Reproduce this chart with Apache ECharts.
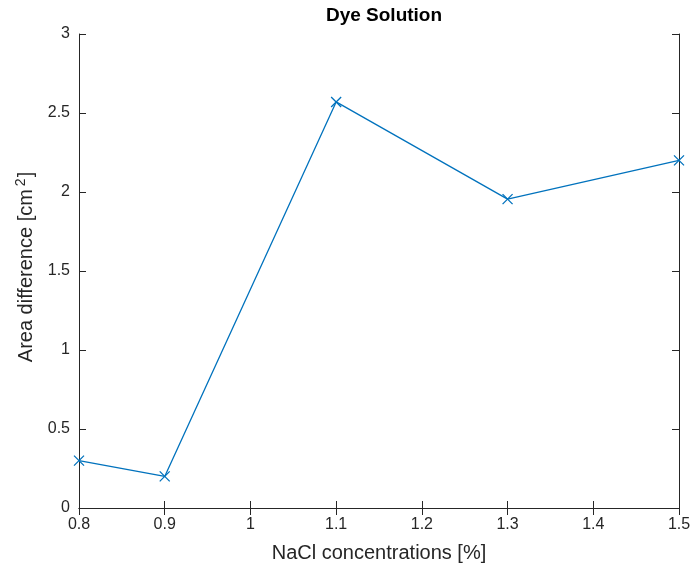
<!DOCTYPE html>
<html>
<head>
    <meta charset="utf-8">
    <title>Dye Solution</title>
    <script src="https://cdn.jsdelivr.net/npm/echarts@6/dist/echarts.min.js"></script>
    <style>
        html, body { margin: 0; padding: 0; background: #fff; }
        #main { width: 694px; height: 569px; }
    </style>
</head>
<body>
<div id="main"></div>
<script type="text/javascript">
    // NaCl concentration [%] and measured area difference [cm^2]
    var nacl = [0.8, 0.9, 1.1, 1.3, 1.5];
    var areaDiff = [0.30, 0.20, 2.57, 1.955, 2.20];

    var points = [];
    for (var i = 0; i < nacl.length; i++) {
        points.push([nacl[i], areaDiff[i]]);
    }

    var ink = '#262626';
    var font = 'Liberation Sans, Arial, Helvetica, sans-serif';

    function fmt(v) {
        return String(Math.round(v * 10) / 10);
    }

    var myChart = echarts.init(document.getElementById('main'));

    var option = {
        animation: false,
        backgroundColor: '#fff',
        title: {
            text: 'Dye Solution',
            left: 379,
            top: 1,
            textAlign: 'center',
            textStyle: { fontFamily: font, fontSize: 19, fontWeight: 'bold', color: '#000' }
        },
        grid: { left: 79, right: 15, top: 34, bottom: 61 },
        xAxis: [{
            type: 'value',
            min: 0.8, max: 1.5, interval: 0.1,
            name: 'NaCl concentrations [%]',
            nameLocation: 'middle',
            nameGap: 35,
            nameTextStyle: { fontFamily: font, fontSize: 20, color: ink },
            axisLine: { lineStyle: { color: ink, width: 1 } },
            axisTick: { inside: true, length: 7, lineStyle: { color: ink } },
            axisLabel: { fontFamily: font, fontSize: 16, color: ink, margin: 9, formatter: fmt },
            splitLine: { show: false }
        }, {
            type: 'value', position: 'top',
            min: 0.8, max: 1.5, interval: 0.1,
            axisLine: { show: true, lineStyle: { color: ink, width: 1 } },
            axisTick: { inside: true, length: 7, lineStyle: { color: ink } },
            axisLabel: { show: false },
            splitLine: { show: false }
        }],
        yAxis: [{
            type: 'value',
            min: 0, max: 3, interval: 0.5,
            name: 'Area difference [cm{sup|2}]',
            nameLocation: 'middle',
            nameGap: 29,
            nameRotate: 90,
            nameTextStyle: {
                fontFamily: font, fontSize: 20, color: ink,
                padding: [0, 0, 0, 8],
                rich: { sup: { fontFamily: font, fontSize: 14, color: ink, verticalAlign: 'top', padding: [0, 1, 12, 3] } }
            },
            axisLine: { show: true, lineStyle: { color: ink, width: 1 } },
            axisTick: { show: true, inside: true, length: 7, lineStyle: { color: ink } },
            axisLabel: { fontFamily: font, fontSize: 16, color: ink, margin: 9, formatter: fmt },
            splitLine: { show: false }
        }, {
            type: 'value', position: 'right',
            min: 0, max: 3, interval: 0.5,
            axisLine: { show: true, lineStyle: { color: ink, width: 1 } },
            axisTick: { show: true, inside: true, length: 7, lineStyle: { color: ink } },
            axisLabel: { show: false },
            splitLine: { show: false }
        }],
        series: [{
            type: 'line',
            data: points,
            symbol: 'path://M0,0L10,10M10,0L0,10',
            symbolSize: 10,
            showAllSymbol: true,
            lineStyle: { color: '#0072BD', width: 1.3 },
            itemStyle: { color: 'none', borderColor: '#0072BD', borderWidth: 1.3 },
            clip: false
        }]
    };

    myChart.setOption(option);
</script>
</body>
</html>
